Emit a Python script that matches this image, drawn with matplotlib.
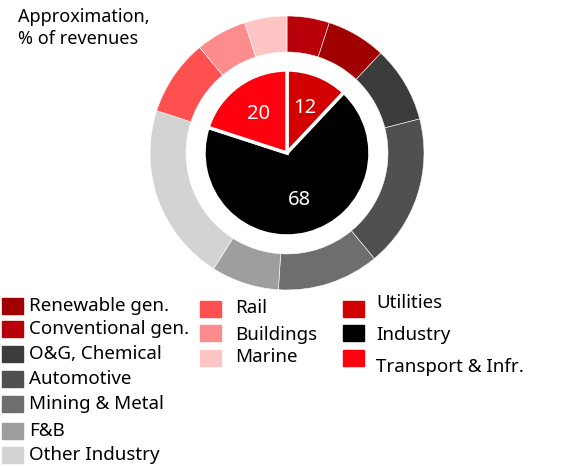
import matplotlib.pyplot as plt
from matplotlib.patches import Rectangle

plt.rcParams['font.family'] = ['Noto Sans', 'DejaVu Sans']

# inner ring: segment shares
segments = ['Utilities', 'Industry', 'Transport & Infr.']
segment_values = [12, 68, 20]
segment_colors = ['#D20000', '#000000', '#FF000F']

# outer ring: customer groups, clockwise from 12 o'clock
groups = ['Conventional gen.', 'Renewable gen.', 'O&G, Chemical', 'Automotive',
          'Mining & Metal', 'F&B', 'Other Industry', 'Rail', 'Buildings', 'Marine']
group_values = [5, 7, 9, 18, 12, 8, 21, 9, 6, 5]
group_colors = ['#B8000A', '#A00000', '#3C3C3C', '#505050', '#6E6E6E',
                '#9E9E9E', '#D3D3D3', '#FF5050', '#FF8C8C', '#FFC5C5']

# legend order as printed under the chart
legend_cols = [
    ['Renewable gen.', 'Conventional gen.', 'O&G, Chemical', 'Automotive',
     'Mining & Metal', 'F&B', 'Other Industry'],
    ['Rail', 'Buildings', 'Marine'],
    ['Utilities', 'Industry', 'Transport & Infr.'],
]

W, H = 580, 467
fig = plt.figure(figsize=(W / 100, H / 100), dpi=100)

cx, cy, R = 287, 153, 137
ax = fig.add_axes([(cx - R) / W, (H - cy - R) / H, 2 * R / W, 2 * R / H])

ax.pie(group_values, colors=group_colors, radius=1.0, startangle=90,
       counterclock=False, wedgeprops=dict(width=0.263, edgecolor='white', linewidth=0.4))
ax.pie(segment_values, colors=segment_colors, radius=0.606, startangle=90,
       counterclock=False, labels=[str(v) for v in segment_values], labeldistance=0.58,
       textprops=dict(color='white', fontsize=14.5, ha='center', va='center'),
       wedgeprops=dict(edgecolor='white', linewidth=2.5))
ax.set_xlim(-1, 1)
ax.set_ylim(-1, 1)
ax.set_aspect('equal')
ax.axis('off')

fig.text(18 / W, 1 - 8 / H, 'Approximation,\n% of revenues', fontsize=13,
         va='top', ha='left', linespacing=1.3)

color_of = dict(zip(groups, group_colors))
color_of.update(zip(segments, segment_colors))


def px(x, y):
    return x / W, 1 - y / H


col_x = [(2, 29), (200, 235), (343, 376)]
col_rows = [
    [306, 329, 354, 379, 404, 431, 455],
    [309, 333, 358],
    [309, 333, 358],
]
text_rows = [
    [306, 329, 354, 379, 404, 431, 455],
    [308, 335, 357],
    [303, 335, 367],
]
for names, (sx, tx), rows, trows in zip(legend_cols, col_x, col_rows, text_rows):
    for name, y, ty in zip(names, rows, trows):
        fig.patches.append(Rectangle(px(sx, y + 8), 21 / W, 16 / H,
                                     transform=fig.transFigure, color=color_of[name]))
        fig.text(*px(tx, ty), name, fontsize=13.5, va='center', ha='left')

fig.savefig('out.png', dpi=100)
